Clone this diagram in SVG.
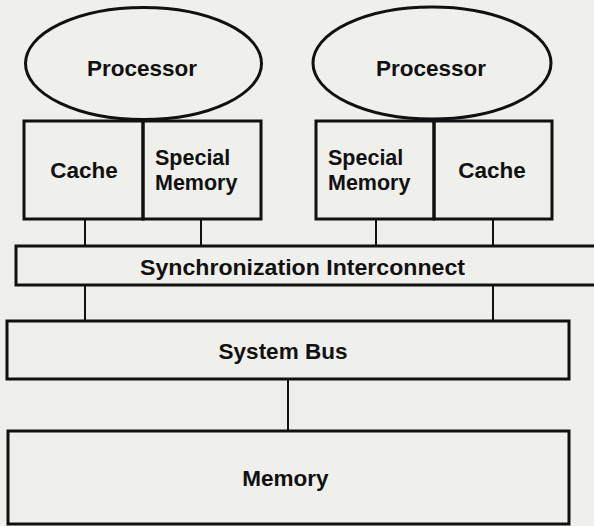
<svg xmlns="http://www.w3.org/2000/svg" width="594" height="526" viewBox="0 0 594 526">
<style>
.s{fill:none;stroke:#111;stroke-width:3}
.c{fill:none;stroke:#111;stroke-width:2}
text{font-family:"Liberation Sans",Arial,Helvetica,sans-serif;font-weight:bold;font-size:22.5px;fill:#111}
.m{text-anchor:middle}
.t{font-size:21.5px}
</style>
<rect width="594" height="526" fill="#efefec"/>
<g id="connectors">
<line class="c" x1="85" y1="219" x2="85" y2="246"/>
<line class="c" x1="201" y1="219" x2="201" y2="246"/>
<line class="c" x1="376" y1="219" x2="376" y2="246"/>
<line class="c" x1="493" y1="219" x2="493" y2="246"/>
<line class="c" x1="85" y1="285" x2="85" y2="321"/>
<line class="c" x1="493" y1="285" x2="493" y2="321"/>
<line class="c" x1="288" y1="379" x2="288" y2="431"/>
</g>
<g id="processor-left">
<ellipse class="s" cx="143.5" cy="63.5" rx="118" ry="56"/>
<text class="m" x="142" y="76">Processor</text>
</g>
<g id="cache-left">
<rect class="s" x="24" y="121" width="119" height="98"/>
<text class="m" x="84" y="178">Cache</text>
</g>
<g id="special-memory-left">
<rect class="s" x="143" y="121" width="118" height="98"/>
<text class="t" x="155" y="165">Special</text>
<text class="t" x="155" y="190">Memory</text>
</g>
<g id="processor-right">
<ellipse class="s" cx="432" cy="63" rx="119" ry="56"/>
<text class="m" x="431" y="76">Processor</text>
</g>
<g id="special-memory-right">
<rect class="s" x="316" y="121" width="118" height="98"/>
<text class="t" x="328" y="165">Special</text>
<text class="t" x="328" y="190">Memory</text>
</g>
<g id="cache-right">
<rect class="s" x="434" y="121" width="118" height="98"/>
<text class="m" x="492" y="178">Cache</text>
</g>
<g id="sync-interconnect">
<rect class="s" x="16" y="246" width="600" height="39"/>
<text x="140" y="275" textLength="325" lengthAdjust="spacingAndGlyphs">Synchronization Interconnect</text>
</g>
<g id="system-bus">
<rect class="s" x="7" y="321" width="562" height="58"/>
<text class="m" x="283" y="359">System Bus</text>
</g>
<g id="memory">
<rect class="s" x="8" y="431" width="561" height="93"/>
<text class="m" x="285.5" y="486">Memory</text>
</g>
</svg>
